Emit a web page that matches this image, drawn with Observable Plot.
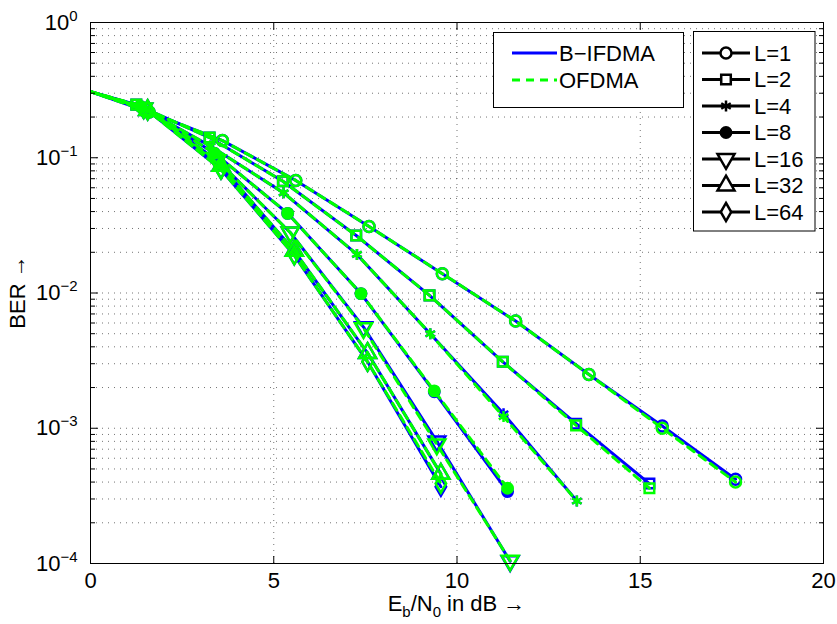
<!DOCTYPE html>
<html><head><meta charset="utf-8">
<script src="https://cdn.jsdelivr.net/npm/d3@7"></script>
<script src="https://cdn.jsdelivr.net/npm/@observablehq/plot@0.6"></script>
<style>
html,body{margin:0;padding:0;background:#fff;}
#chart{width:837px;height:624px;}
svg text{font-family:"Liberation Sans",Arial,Helvetica,sans-serif;}
</style></head><body><div id="chart"></div>
<script>
// ---- data ----
const seriesLabels = ["L=1", "L=2", "L=4", "L=8", "L=16", "L=32", "L=64"];
const techLabels = ["B\u2212IFDMA", "OFDMA"];

const ebn0_L1 = [-0.4, 1.6, 3.6, 5.6, 7.6, 9.6, 11.6, 13.6, 15.6, 17.6];
const berB_L1 = [0.336, 0.218, 0.134, 0.068, 0.031, 0.0139, 0.0062, 0.0025, 0.00104, 0.00042];
const berO_L1 = [0.336, 0.218, 0.134, 0.068, 0.031, 0.0139, 0.0062, 0.0025, 0.00100, 0.00040];

const ebn0_L2 = [-0.75, 1.25, 3.25, 5.25, 7.25, 9.25, 11.25, 13.25, 15.25];
const berB_L2 = [0.352, 0.247, 0.141, 0.067, 0.0266, 0.0096, 0.0031, 0.00108, 0.00039];
const berO_L2 = [0.352, 0.247, 0.141, 0.067, 0.0266, 0.0096, 0.0031, 0.00105, 0.00036];

const ebn0_L4 = [-0.73, 1.27, 3.27, 5.27, 7.27, 9.27, 11.27, 13.27];
const berB_L4 = [0.352, 0.245, 0.122, 0.055, 0.0193, 0.0050, 0.00128, 0.00029];
const berO_L4 = [0.352, 0.245, 0.122, 0.055, 0.0193, 0.0050, 0.00122, 0.00029];

const ebn0_L8 = [-0.62, 1.38, 3.38, 5.38, 7.38, 9.38, 11.38];
const berB_L8 = [0.346, 0.238, 0.108, 0.0388, 0.0099, 0.00186, 0.00034];
const berO_L8 = [0.346, 0.238, 0.108, 0.0388, 0.0099, 0.00189, 0.00036];

const ebn0_L16 = [-0.55, 1.45, 3.45, 5.45, 7.45, 9.45, 11.45];
const berB_L16 = [0.343, 0.232, 0.096, 0.028, 0.0056, 0.00080, 0.000104];
const berO_L16 = [0.343, 0.232, 0.096, 0.028, 0.0055, 0.00076, 0.000105];

const ebn0_L32 = [-0.44, 1.56, 3.56, 5.56, 7.56, 9.56];
const berB_L32 = [0.337, 0.225, 0.087, 0.0205, 0.0036, 0.00046];
const berO_L32 = [0.337, 0.225, 0.087, 0.0205, 0.0036, 0.00046];

const ebn0_L64 = [-0.44, 1.56, 3.56, 5.56, 7.56, 9.56];
const berB_L64 = [0.337, 0.224, 0.082, 0.019, 0.0031, 0.00037];
const berO_L64 = [0.337, 0.224, 0.082, 0.019, 0.0031, 0.00039];

const xTicks = [0, 5, 10, 15, 20];
const yTicks = [1, 0.1, 0.01, 0.001, 0.0001];
const yMinorMantissa = [2, 3, 4, 5, 6, 7, 8, 9];
const yDecades = [0.0001, 0.001, 0.01, 0.1];

// ---- build tables ----
const xs = [ebn0_L1, ebn0_L2, ebn0_L4, ebn0_L8, ebn0_L16, ebn0_L32, ebn0_L64];
const bs = [berB_L1, berB_L2, berB_L4, berB_L8, berB_L16, berB_L32, berB_L64];
const os = [berO_L1, berO_L2, berO_L4, berO_L8, berO_L16, berO_L32, berO_L64];
function table(berSets) {
  const rows = [];
  seriesLabels.forEach((L, i) => xs[i].forEach((x, j) => rows.push({L, x, ber: berSets[i][j]})));
  return rows;
}
const dataB = table(bs);
const dataO = table(os);
const yMinor = yDecades.flatMap(d => yMinorMantissa.map(m => m * d));

// ---- styles ----
const BLUE = "#0000ff", GREEN = "#00ff00";
const DASH = "8,6";
const triDown = {draw(ctx, size) {
  const s3 = Math.sqrt(3), y = -Math.sqrt(size / (s3 * 3));
  ctx.moveTo(0, -2 * y); ctx.lineTo(-s3 * y, y); ctx.lineTo(s3 * y, y); ctx.closePath();
}};
const markerSpec = [
  {symbol: "circle", r: 5.5, filled: false},
  {symbol: "square", r: 5.4, filled: false},
  {symbol: "asterisk", r: 5.2, filled: false},
  {symbol: "circle", r: 5.2, filled: true},
  {symbol: triDown, r: 6.3, filled: false},
  {symbol: "triangle", r: 6.3, filled: false},
  {symbol: "diamond", r: 5.5, filled: false}
];

function dotMarks(data, color) {
  return seriesLabels.map((L, i) => {
    const m = markerSpec[i];
    return Plot.dot(data.filter(d => d.L === L && d.x >= 0), {
      x: "x", y: "ber", symbol: m.symbol, r: m.r,
      stroke: color, strokeWidth: 2.5, fill: m.filled ? color : "none"
    });
  });
}

const gridStyle = {stroke: "#000", strokeOpacity: 0.55, strokeWidth: 1, strokeDasharray: "1,5"};

const plot = Plot.plot({
  width: 837, height: 624,
  marginLeft: 90, marginRight: 14, marginTop: 22, marginBottom: 61,
  style: {fontSize: "22px", fontFamily: "'Liberation Sans', Arial, Helvetica, sans-serif", background: "#fff", color: "#000"},
  x: {domain: [0, 20]},
  y: {type: "log", domain: [0.0001, 1]},
  marks: [
    Plot.gridX({ticks: xTicks.slice(1, -1), ...gridStyle}),
    Plot.gridY({ticks: yMinor.concat([0.1, 0.01, 0.001]), ...gridStyle}),
    Plot.line(dataB, {x: "x", y: "ber", z: "L", stroke: BLUE, strokeWidth: 3, clip: true}),
    ...dotMarks(dataB, BLUE),
    Plot.line(dataO, {x: "x", y: "ber", z: "L", stroke: GREEN, strokeWidth: 3, strokeDasharray: DASH, clip: true}),
    ...dotMarks(dataO, GREEN),
    Plot.frame({stroke: "#000", strokeWidth: 1}),
    Plot.axisX({anchor: "bottom", ticks: xTicks, tickSize: 0, tickPadding: 9, label: null}),
    Plot.axisX({anchor: "bottom", ticks: xTicks, tickSize: -7, tickFormat: () => "", label: null}),
    Plot.axisX({anchor: "top", ticks: xTicks, tickSize: -7, tickFormat: () => "", label: null}),
    Plot.axisY({anchor: "left", ticks: yTicks, tickSize: 0, tickPadding: 13, label: null,
      tickFormat: d => "10^" + Math.round(Math.log10(d))}),
    Plot.axisY({anchor: "left", ticks: yTicks, tickSize: -8, tickFormat: () => "", label: null}),
    Plot.axisY({anchor: "left", ticks: yMinor, tickSize: -5, tickFormat: () => "", label: null}),
    Plot.axisY({anchor: "right", ticks: yTicks, tickSize: -8, tickFormat: () => "", label: null}),
    Plot.axisY({anchor: "right", ticks: yMinor, tickSize: -5, tickFormat: () => "", label: null})
  ]
});
document.getElementById("chart").appendChild(plot);

const svg = d3.select(plot);
// superscript exponents on y tick labels
svg.selectAll('g[aria-label="y-axis tick label"] text').each(function () {
  const t = this.textContent;
  if (!t.includes("^")) return;
  const e = t.split("^")[1].replace("-", "\u2212");
  this.textContent = "10";
  d3.select(this).append("tspan").attr("font-size", 15).attr("dy", -9).text(e);
});

// axis titles
const xt = svg.append("text").attr("x", 456.5).attr("y", 611).attr("text-anchor", "middle")
  .attr("font-size", 22).attr("fill", "#000");
xt.append("tspan").text("E");
xt.append("tspan").attr("font-size", 15).attr("dy", 6).text("b");
xt.append("tspan").attr("dy", -6).text("/N");
xt.append("tspan").attr("font-size", 15).attr("dy", 6).text("0");
xt.append("tspan").attr("dy", -6).text(" in dB \u2192");

svg.append("text").attr("transform", "translate(25,292) rotate(-90)").attr("text-anchor", "middle")
  .attr("font-size", 22).attr("fill", "#000").text("BER \u2192");

// legend 1: technologies
const lg1 = svg.append("g").attr("text-anchor", "start");
lg1.append("rect").attr("x", 493.5).attr("y", 32.5).attr("width", 190).attr("height", 75)
  .attr("fill", "#fff").attr("stroke", "#000");
[[BLUE, null, 53], [GREEN, DASH, 80]].forEach(([c, dash, y], i) => {
  lg1.append("line").attr("x1", 512).attr("x2", 557).attr("y1", y).attr("y2", y)
    .attr("stroke", c).attr("stroke-width", 3).attr("stroke-dasharray", dash);
  lg1.append("text").attr("x", 559).attr("y", y).attr("dy", "0.35em").attr("font-size", 22)
    .attr("text-anchor", "start").attr("fill", "#000").text(techLabels[i]);
});

// legend 2: block sizes
const lg2 = svg.append("g").attr("text-anchor", "start");
lg2.append("rect").attr("x", 693.5).attr("y", 31.5).attr("width", 121.5).attr("height", 199.5)
  .attr("fill", "#fff").attr("stroke", "#000");
const symMap = {circle: d3.symbolCircle, square: d3.symbolSquare, asterisk: d3.symbolAsterisk, triangle: d3.symbolTriangle, diamond: d3.symbolDiamond};
seriesLabels.forEach((L, i) => {
  const y = 53 + i * 26.5, m = markerSpec[i];
  lg2.append("line").attr("x1", 702).attr("x2", 750).attr("y1", y).attr("y2", y)
    .attr("stroke", "#000").attr("stroke-width", 3);
  const type = typeof m.symbol === "string" ? symMap[m.symbol] : m.symbol;
  lg2.append("path").attr("transform", `translate(726,${y})`)
    .attr("d", d3.symbol(type, Math.PI * m.r * m.r)())
    .attr("fill", m.filled ? "#000" : "#fff").attr("stroke", "#000").attr("stroke-width", 2.5);
  lg2.append("text").attr("x", 754).attr("y", y).attr("dy", "0.35em").attr("font-size", 22)
    .attr("text-anchor", "start").attr("fill", "#000").text(L);
});
</script></body></html>
